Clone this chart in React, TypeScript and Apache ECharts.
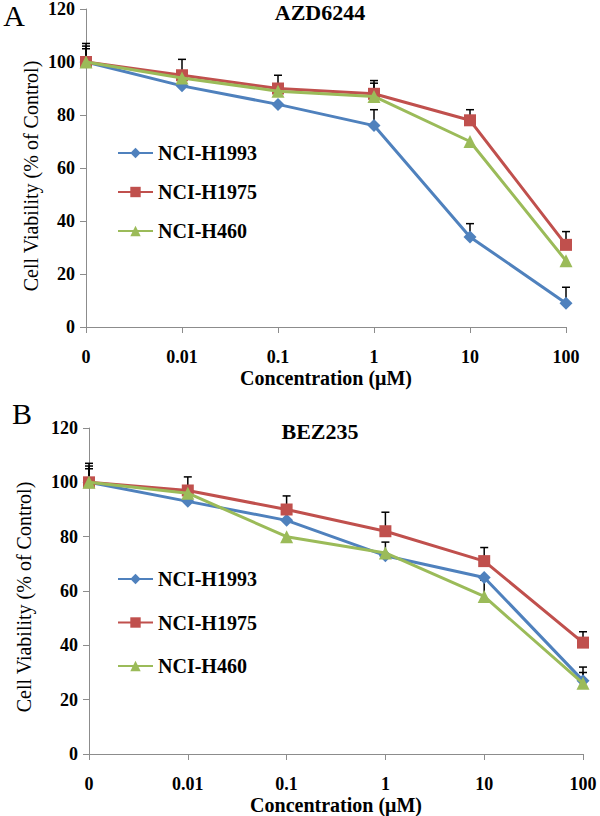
import React, { useEffect, useRef } from "react";
import * as echarts from "echarts";

const concentrations = ["0", "0.01", "0.1", "1", "10", "100"];
const seriesNames = ["NCI-H1993", "NCI-H1975", "NCI-H460"];

// Panel A: AZD6244
const aH1993 = [100, 91, 84, 76, 34, 9];
const aH1975 = [100, 95, 90, 88, 78, 31];
const aH460 = [100, 94, 89, 87, 70, 25];
const aH1993Err = [6, 0, 0, 6, 5, 6];
const aH1975Err = [7, 6, 5, 5, 4, 5];
const aH460Err = [5, 0, 0, 5, 0, 0];

// Panel B: BEZ235
const bH1993 = [100, 93, 86, 73, 65, 27];
const bH1975 = [100, 97, 90, 82, 71, 41];
const bH460 = [100, 96, 80, 74, 58, 26];
const bH1993Err = [6, 0, 0, 5, 0, 5];
const bH1975Err = [7, 5, 5, 7, 5, 4];
const bH460Err = [5, 0, 0, 0, 6, 4];

const COLORS = ["#4F81BD", "#C0504D", "#9BBB59"];
const SYMBOLS = ["diamond", "rect", "triangle"];
const SYMBOL_SIZES = [13, 12, 13];
const FONT = "'Liberation Serif', 'Times New Roman', serif";

function lineSeries(idx: number, data: number[], axis: number) {
  return {
    type: "line",
    name: seriesNames[idx],
    xAxisIndex: axis,
    yAxisIndex: axis,
    data,
    symbol: SYMBOLS[idx],
    symbolSize: SYMBOL_SIZES[idx],
    showAllSymbol: true,
    z: 3 + idx,
    lineStyle: { color: COLORS[idx], width: 3 },
    itemStyle: { color: COLORS[idx] },
  };
}

function errorSeries(idx: number, means: number[], errs: number[], axis: number) {
  const data = means
    .map((m, i) => [i, m, m + errs[i]])
    .filter((_, i) => errs[i] > 0);
  return {
    type: "custom",
    name: seriesNames[idx] + " SD",
    xAxisIndex: axis,
    yAxisIndex: axis,
    z: 2,
    data,
    encode: { x: 0, y: [1, 2] },
    renderItem: (_params: any, api: any) => {
      const x = api.value(0);
      const lo = api.coord([x, api.value(1)]);
      const hi = api.coord([x, api.value(2)]);
      return {
        type: "group",
        children: [
          {
            type: "line",
            shape: { x1: lo[0], y1: lo[1], x2: hi[0], y2: hi[1] },
            style: { stroke: "#000", lineWidth: 1.5 },
          },
          {
            type: "line",
            shape: { x1: hi[0] - 4, y1: hi[1], x2: hi[0] + 4, y2: hi[1] },
            style: { stroke: "#000", lineWidth: 1.5 },
          },
        ],
      };
    },
  };
}

function xAxis(gridIndex: number) {
  return {
    type: "category",
    gridIndex,
    data: concentrations,
    boundaryGap: false,
    axisLine: { lineStyle: { color: "#8c8c8c", width: 1 } },
    axisTick: { show: true, length: 6, lineStyle: { color: "#8c8c8c" } },
    axisLabel: {
      margin: 21,
      color: "#000",
      fontFamily: FONT,
      fontWeight: "bold",
      fontSize: 18,
      interval: 0,
    },
    name: "Concentration (\u03bcM)",
    nameLocation: "middle",
    nameGap: 41,
    nameTextStyle: { color: "#000", fontFamily: FONT, fontWeight: "bold", fontSize: 20 },
    splitLine: { show: false },
  };
}

function yAxis(gridIndex: number) {
  return {
    type: "value",
    gridIndex,
    min: 0,
    max: 120,
    interval: 20,
    axisLine: { show: true, lineStyle: { color: "#8c8c8c", width: 1 } },
    axisTick: { show: true, length: 6, lineStyle: { color: "#8c8c8c" } },
    axisLabel: {
      margin: 11,
      color: "#000",
      fontFamily: FONT,
      fontWeight: "bold",
      fontSize: 18,
    },
    splitLine: { show: false },
  };
}

function legend(top: number, gap: number) {
  return {
    orient: "vertical",
    left: 117,
    top,
    padding: 0,
    itemWidth: 35,
    itemHeight: 13,
    itemGap: gap,
    data: seriesNames,
    selectedMode: false,
    textStyle: {
      color: "#000",
      fontFamily: FONT,
      fontWeight: "bold",
      fontSize: 20,
      lineHeight: 20,
    },
  };
}

function label(text: string, x: number, y: number, size: number, bold: boolean, rotate = 0) {
  return {
    type: "text",
    x,
    y,
    rotation: rotate,
    style: {
      text,
      fill: "#000",
      fontFamily: FONT,
      fontWeight: bold ? "bold" : "normal",
      fontSize: size,
      align: "center",
      verticalAlign: "middle",
    },
  };
}

export default function App() {
  const ref = useRef<HTMLDivElement>(null);
  useEffect(() => {
    if (!ref.current) return;
    const chart = echarts.init(ref.current, undefined, { renderer: "svg" });
    chart.setOption({
      animation: false,
      backgroundColor: "#fff",
      grid: [
        { left: 86, top: 9, width: 480, height: 318 },
        { left: 89, top: 428, width: 494, height: 326 },
      ],
      xAxis: [xAxis(0), xAxis(1)],
      yAxis: [yAxis(0), yAxis(1)],
      legend: [legend(143, 19), legend(569, 23.5)],
      series: [
        errorSeries(0, aH1993, aH1993Err, 0),
        errorSeries(1, aH1975, aH1975Err, 0),
        errorSeries(2, aH460, aH460Err, 0),
        lineSeries(0, aH1993, 0),
        lineSeries(1, aH1975, 0),
        lineSeries(2, aH460, 0),
        errorSeries(0, bH1993, bH1993Err, 1),
        errorSeries(1, bH1975, bH1975Err, 1),
        errorSeries(2, bH460, bH460Err, 1),
        lineSeries(0, bH1993, 1),
        lineSeries(1, bH1975, 1),
        lineSeries(2, bH460, 1),
      ],
      graphic: [
        label("A", 14, 15, 30, false),
        label("B", 22, 413, 30, false),
        label("AZD6244", 320, 12, 22, true),
        label("BEZ235", 320, 431, 22, true),
        label("Cell Viability (% of Control)", 31, 176, 20, false, Math.PI / 2),
        label("Cell Viability (% of Control)", 24, 597, 20, false, Math.PI / 2),
      ],
    });
    return () => chart.dispose();
  }, []);
  return (
    <div
      ref={ref}
      style={{ position: "absolute", left: 0, top: 0, width: 600, height: 816, background: "#fff" }}
    />
  );
}
